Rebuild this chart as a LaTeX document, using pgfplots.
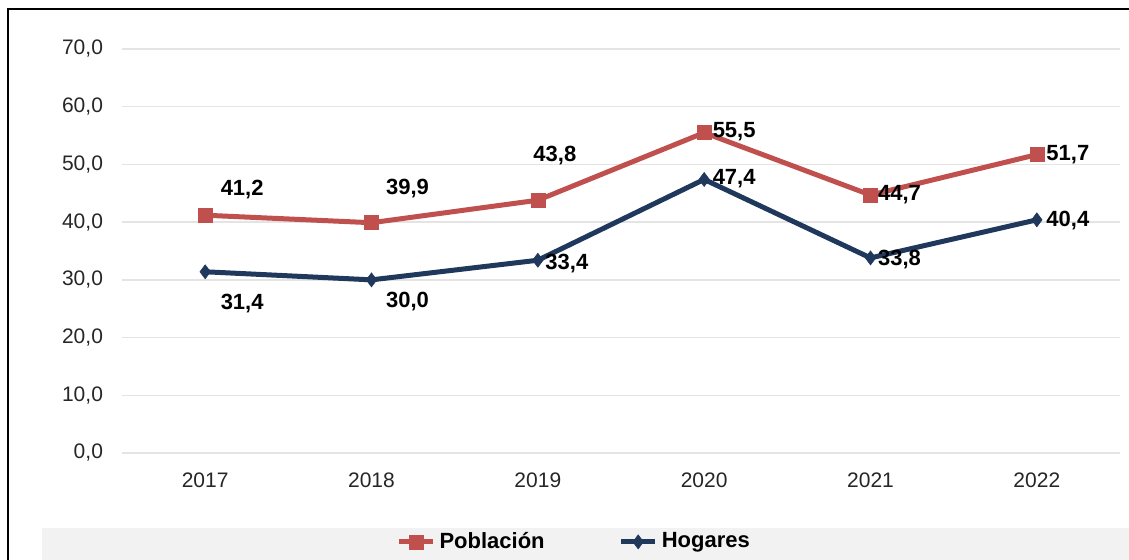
\documentclass[border=0pt]{standalone}
\usepackage{pgfplots}
\pgfplotsset{compat=1.18}
\usepackage{fontspec}
\setmainfont{Liberation Sans}
\definecolor{pob}{RGB}{192,80,77}
\definecolor{hog}{RGB}{31,56,92}
\definecolor{gridc}{RGB}{228,228,228}
\definecolor{band}{RGB}{242,242,242}
\begin{document}
\begin{tikzpicture}
\useasboundingbox (0,0) rectangle (564.5pt,280pt);
\fill[band] (21pt,0) rectangle (564.5pt,16pt);
\begin{scope}
\clip (0,0) rectangle (564.5pt,280pt);
\draw[line width=1pt] (4pt,-5pt) -- (4pt,275.5pt) -- (570pt,275.5pt);
\end{scope}
\begin{axis}[
  at={(61pt,53.5pt)}, anchor=south west,
  scale only axis, width=499pt, height=202pt,
  xmin=-0.5, xmax=5.5, ymin=0, ymax=70,
  xtick={0,1,2,3,4,5}, xticklabels={2017,2018,2019,2020,2021,2022},
  ytick={0,10,...,70},
  yticklabel={\pgfmathprintnumber[fixed,fixed zerofill,precision=1,use comma,assume math mode=true]{\tick}},
  axis line style={draw=none}, major tick length=0pt,
  ymajorgrids, grid style={gridc, line width=0.75pt},
  tick label style={font=\fontsize{10.5}{12}\selectfont, text=black!85},
  yticklabel style={xshift=-6pt},
  xticklabel style={yshift=-6.5pt},
  clip=false,
  legend style={at={(0.454,-0.22)}, anchor=center, draw=none, fill=none,
    font=\bfseries\fontsize{11}{13}\selectfont,
    /tikz/every even column/.append style={column sep=35pt}},
  legend columns=2,
  legend cell align=left,
  nodes near coords={\pgfmathprintnumber[fixed,fixed zerofill,precision=1,use comma,assume math mode=true]{\pgfplotspointmeta}},
  point meta=explicit,
  visualization depends on={\thisrow{dx}\as\dx},
  visualization depends on={\thisrow{dy}\as\dy},
  nodes near coords style={anchor=center, xshift=\dx pt, yshift=\dy pt, text=black, font=\bfseries\fontsize{11}{13}\selectfont},
]
\addplot[pob, line width=2.5pt, mark=square*, mark size=3.5pt, mark options={solid, line width=0.3pt}]
  table[x=x, y=y, meta=y] {
x y dx dy
0 41.2 18.5 13
1 39.9 18 17
2 43.8 8.5 22.5
3 55.5 15 0.5
4 44.7 14.5 0
5 51.7 15.5 0
};
\addlegendentry{Población}
\addplot[hog, line width=2.5pt, mark=diamond*, mark size=3.5pt, mark options={solid, line width=0.3pt}]
  table[x=x, y=y, meta=y] {
x y dx dy
0 31.4 18.5 -16
1 30.0 18 -11
2 33.4 14.5 -1.5
3 47.4 15 0.5
4 33.8 14.5 -1
5 40.4 15.5 -0.5
};
\addlegendentry{Hogares}
\end{axis}
\end{tikzpicture}
\end{document}
